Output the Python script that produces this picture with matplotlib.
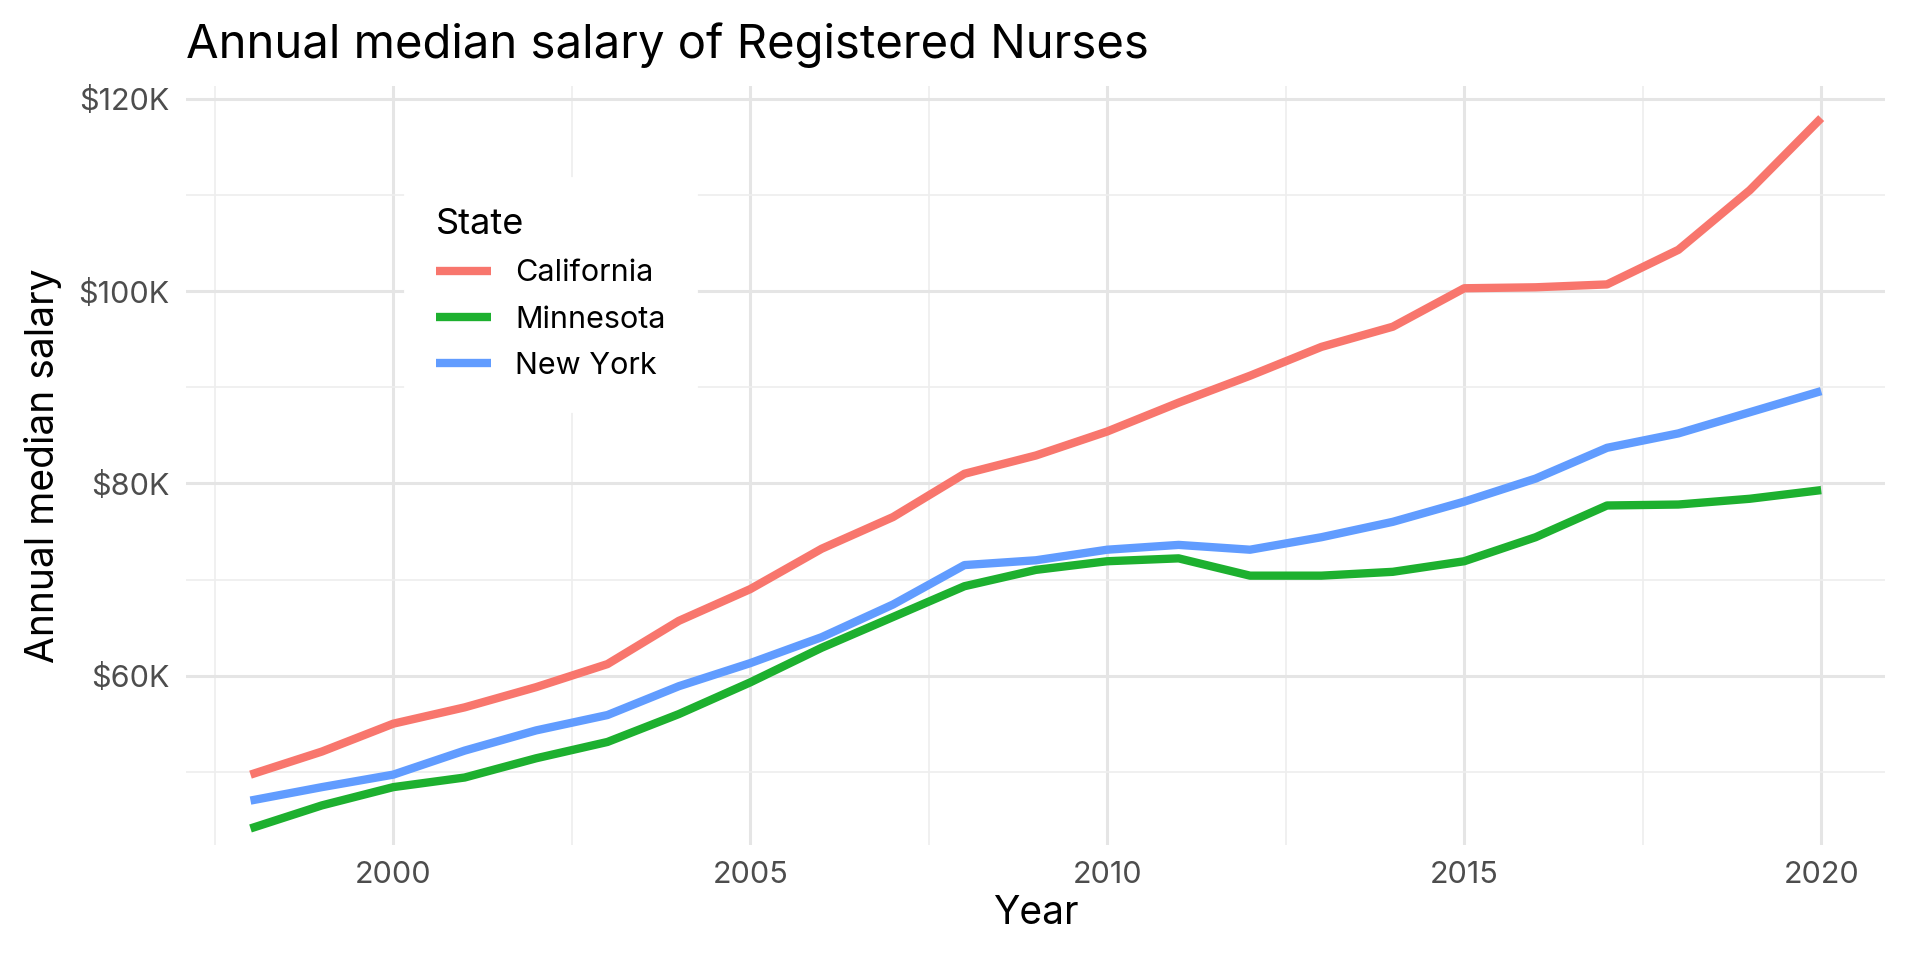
import matplotlib.pyplot as plt
import matplotlib.ticker as mticker
import numpy as np

plt.rcParams['font.family'] = ['Inter', 'DejaVu Sans']

years = np.arange(1998, 2021)
california = [49.7, 52.1, 55.0, 56.7, 58.8, 61.2, 65.7, 69.0, 73.2, 76.5, 81.0, 82.9,
              85.4, 88.4, 91.2, 94.2, 96.3, 100.3, 100.4, 100.7, 104.3, 110.5, 118.0]
minnesota = [44.1, 46.5, 48.4, 49.4, 51.4, 53.1, 56.0, 59.3, 62.9, 66.1, 69.3, 71.0,
             71.9, 72.2, 70.4, 70.4, 70.8, 71.9, 74.4, 77.7, 77.8, 78.4, 79.3]
new_york = [47.0, 48.4, 49.7, 52.2, 54.3, 55.9, 58.9, 61.3, 64.0, 67.4, 71.5, 72.0,
            73.1, 73.6, 73.1, 74.4, 76.0, 78.1, 80.5, 83.7, 85.2, 87.4, 89.6]
series = {'California': (california, '#F8766D'),
          'Minnesota': (minnesota, '#1DB02F'),
          'New York': (new_york, '#619CFF')}

fig = plt.figure(figsize=(9.6, 4.8), dpi=200)
ax = fig.add_axes([0.097, 0.12, 0.885, 0.79])
for name, (vals, col) in series.items():
    ax.plot(years, np.array(vals) * 1000, color=col, lw=3, label=name, solid_capstyle='butt')

ax.set_xlim(1997.1, 2020.9)
ax.set_ylim(42400, 121300)
ax.set_xticks([2000, 2005, 2010, 2015, 2020])
ax.set_xticks([1997.5, 2002.5, 2007.5, 2012.5, 2017.5], minor=True)
ax.set_yticks([60000, 80000, 100000, 120000])
ax.set_yticks([50000, 70000, 90000, 110000], minor=True)
ax.yaxis.set_major_formatter(mticker.FuncFormatter(lambda v, p: f'${v/1000:.0f}K'))
ax.grid(which='major', color='#E5E5E5', lw=1.1)
ax.grid(which='minor', color='#EEEEEE', lw=0.6)
ax.set_axisbelow(True)
for s in ax.spines.values():
    s.set_visible(False)
ax.tick_params(which='both', length=0, labelsize=11, labelcolor='#4D4D4D', pad=6)
ax.set_xlabel('Year', fontsize=14, labelpad=2)
ax.set_ylabel('Annual median salary', fontsize=14, labelpad=6)
fig.text(0.097, 0.94, 'Annual median salary of Registered Nurses', fontsize=17)

leg = ax.legend(title='State', loc='upper left', bbox_to_anchor=(0.12, 0.9),
                fontsize=11, title_fontsize=13, frameon=True, fancybox=False,
                edgecolor='white', framealpha=1, handlelength=1.8, borderpad=1.0,
                labelspacing=0.6)
leg._legend_box.align = 'left'

fig.savefig('out.png')
